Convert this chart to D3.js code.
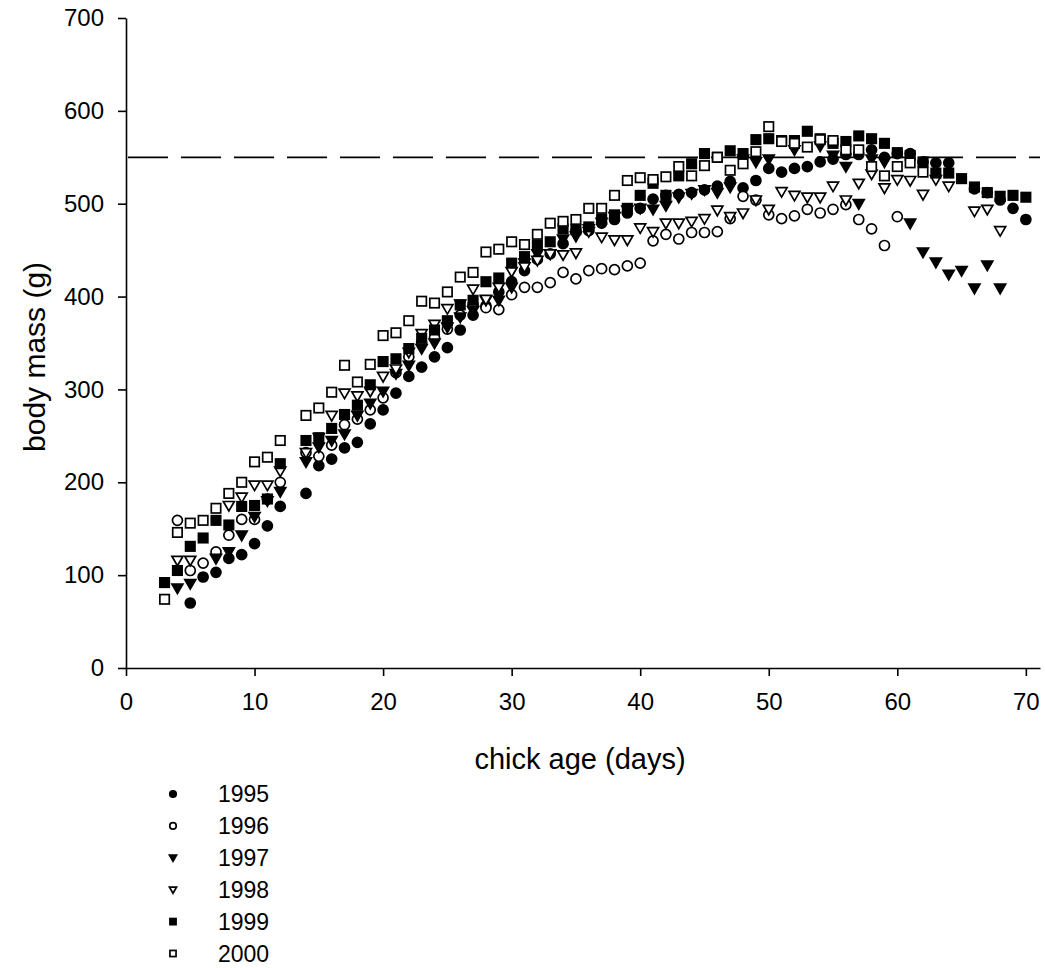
<!DOCTYPE html>
<html>
<head>
<meta charset="utf-8">
<script src="https://cdn.jsdelivr.net/npm/d3@7"></script>
<style>
  body { margin: 0; background: #fff; }
  text { font-family: Arial, "Liberation Sans", sans-serif; fill: #000; }
</style>
</head>
<body>
<svg id="chart" width="1045" height="968"></svg>
<script>
// chick mass by age, one pair of arrays per year
var days1995 = [5,6,7,8,9,10,11,12,14,15,16,17,18,19,20,21,22,23,24,25,26,27,28,29,30,31,32,33,34,35,36,37,38,39,40,41,42,43,44,45,46,47,48,49,50,51,52,53,54,55,56,57,58,59,60,61,62,63,64,66,67,68,69,70];
var mass1995 = [70,98,103,118,122,134,153,174,188,218,225,237,243,263,278,296,314,324,335,345,364,380,390,405,416,428,440,446,457,471,471,479,483,490,495,505,509,510,512,515,519,524,517,525,538,534,538,540,545,548,553,553,558,550,554,554,545,544,544,516,512,504,495,483];

var days1996 = [4,5,6,7,8,9,10,11,12,14,15,16,17,18,19,20,21,22,23,24,25,26,27,28,29,30,31,32,33,34,35,36,37,38,39,40,41,42,43,44,45,46,47,48,49,50,51,52,53,54,55,56,57,58,59,60];
var mass1996 = [159,105,113,125,143,160,160,182,200,232,228,240,262,268,278,291,318,335,350,356,365,380,391,388,386,402,410,410,415,426,419,428,430,429,433,436,460,467,462,469,469,470,484,508,504,488,484,487,494,490,494,499,483,473,455,486];

var days1997 = [4,5,7,8,9,10,11,12,14,15,16,17,18,19,20,21,22,23,24,25,26,27,28,29,30,31,32,33,34,35,36,37,38,39,40,41,42,43,44,45,46,47,48,49,50,52,54,55,56,57,58,59,61,62,63,64,65,66,67,68];
var mass1997 = [86,91,118,125,143,163,180,190,222,238,245,252,272,285,298,317,326,344,350,367,378,385,396,396,410,436,446,446,462,465,473,480,486,493,495,494,498,507,511,515,512,518,548,545,548,558,562,552,540,500,548,545,479,448,437,424,428,409,434,409];

var days1998 = [4,5,8,9,10,11,12,14,15,16,17,18,19,20,21,22,23,24,25,26,27,28,29,30,31,32,33,34,35,36,37,38,39,40,41,42,43,44,45,46,47,48,49,50,51,52,53,54,55,56,57,58,59,60,61,62,63,64,66,67,68];
var mass1998 = [116,116,175,184,197,197,212,232,248,272,296,293,298,314,322,340,360,370,387,392,408,397,410,427,432,439,446,445,447,470,464,461,461,474,470,479,479,481,484,493,486,490,504,494,513,509,507,507,519,504,522,532,517,526,525,510,526,519,492,494,471];

var days1999 = [3,4,5,6,7,8,9,10,11,12,14,15,16,17,18,19,20,21,22,23,24,25,26,27,28,29,30,31,32,33,34,35,36,37,38,39,40,41,42,43,44,45,46,47,48,49,50,51,52,53,54,55,56,57,58,59,60,61,62,63,64,65,66,67,68,69,70];
var mass1999 = [92,105,131,140,159,154,174,175,182,220,245,248,258,273,283,305,330,333,344,355,364,374,391,396,416,420,436,443,455,459,473,472,475,483,488,495,509,522,509,530,543,554,550,557,554,569,570,568,568,578,570,565,567,573,570,565,555,552,545,533,533,527,518,512,508,509,507];

var days2000 = [3,4,5,6,7,8,9,10,11,12,14,15,16,17,18,19,20,21,22,23,24,25,26,27,28,29,30,31,32,33,34,35,36,37,38,39,40,41,42,43,44,45,46,47,48,49,50,51,52,53,54,55,56,57,58,59,60,61,62];
var mass2000 = [74,146,156,159,172,188,200,222,227,245,272,280,297,326,308,327,358,361,374,395,393,405,421,426,448,451,459,456,467,479,481,483,495,495,509,525,528,526,529,540,530,541,550,536,543,556,583,567,565,561,569,568,558,558,540,530,540,544,534];

var years = ['1995', '1996', '1997', '1998', '1999', '2000'];
var shapes = ['circle', 'circle', 'triangle', 'triangle', 'square', 'square'];
var filled = [true, false, true, false, true, false];
var xTicks = [0, 10, 20, 30, 40, 50, 60, 70];
var yTicks = [0, 100, 200, 300, 400, 500, 600, 700];
var refMass = 550;

var series = [
    { days: days1995, mass: mass1995 },
    { days: days1996, mass: mass1996 },
    { days: days1997, mass: mass1997 },
    { days: days1998, mass: mass1998 },
    { days: days1999, mass: mass1999 },
    { days: days2000, mass: mass2000 }
];

var svg = d3.select('#chart');

var x = d3.scaleLinear().domain([0, 71.1]).range([126, 1040]);
var y = d3.scaleLinear().domain([0, 700]).range([668, 18]);

// axes
var xAxis = svg.append('g')
    .attr('transform', 'translate(0,' + y(0) + ')')
    .call(d3.axisBottom(x).tickValues(xTicks).tickSize(8).tickSizeOuter(0).tickPadding(17));
var yAxis = svg.append('g')
    .attr('transform', 'translate(' + x(0) + ',0)')
    .call(d3.axisLeft(y).tickValues(yTicks).tickSize(8).tickSizeOuter(0).tickPadding(14));

[xAxis, yAxis].forEach(function (g) {
    g.selectAll('path, line').attr('stroke', '#000').attr('stroke-width', 1.6);
    g.selectAll('text').style('font-size', '24px').attr('fill', '#000');
});

// reference line
svg.append('line')
    .attr('x1', x(0) + 2)
    .attr('x2', 1040)
    .attr('y1', y(refMass))
    .attr('y2', y(refMass))
    .attr('stroke', '#000')
    .attr('stroke-width', 1.8)
    .attr('stroke-dasharray', '40,13');

function drawMarker(sel, shape, isFilled, size) {
    var fill = isFilled ? '#000' : '#fff';
    if (shape === 'circle') {
        sel.append('circle').attr('r', size * 0.5)
            .attr('fill', fill).attr('stroke', '#000').attr('stroke-width', 1.7);
    } else if (shape === 'square') {
        sel.append('rect')
            .attr('x', -size * 0.47).attr('y', -size * 0.47)
            .attr('width', size * 0.94).attr('height', size * 0.94)
            .attr('fill', fill).attr('stroke', '#000').attr('stroke-width', 1.7);
    } else {
        var h = size * 0.5;
        sel.append('path')
            .attr('d', 'M' + (-h * 1.1) + ',' + (-h * 0.8) + 'L' + (h * 1.1) + ',' + (-h * 0.8) + 'L0,' + (h * 1.1) + 'Z')
            .attr('fill', fill).attr('stroke', '#000').attr('stroke-width', 1.7)
            .attr('stroke-linejoin', 'miter');
    }
}

// points
series.forEach(function (s, i) {
    var pts = s.days.map(function (d, j) { return { day: d, mass: s.mass[j] }; });
    svg.append('g').attr('class', 'series-' + years[i])
        .selectAll('g')
        .data(pts)
        .enter()
        .append('g')
        .attr('transform', function (d) { return 'translate(' + x(d.day) + ',' + y(d.mass) + ')'; })
        .each(function () { drawMarker(d3.select(this), shapes[i], filled[i], 10); });
});

// axis titles
svg.append('text')
    .attr('x', 580)
    .attr('y', 769)
    .attr('text-anchor', 'middle')
    .style('font-size', '29px')
    .text('chick age (days)');

svg.append('text')
    .attr('transform', 'translate(45,' + y(335) + ')rotate(-90)')
    .attr('text-anchor', 'middle')
    .style('font-size', '30px')
    .text('body mass (g)');

// legend
var legend = svg.append('g');
years.forEach(function (yr, i) {
    var cy = 794 + i * 31.9;
    var g = legend.append('g').attr('transform', 'translate(173,' + cy + ')');
    drawMarker(g, shapes[i], filled[i], 6.5);
    legend.append('text')
        .attr('x', 218)
        .attr('y', cy)
        .attr('dy', '0.36em')
        .style('font-size', '23px')
        .text(yr);
});
</script>
</body>
</html>
